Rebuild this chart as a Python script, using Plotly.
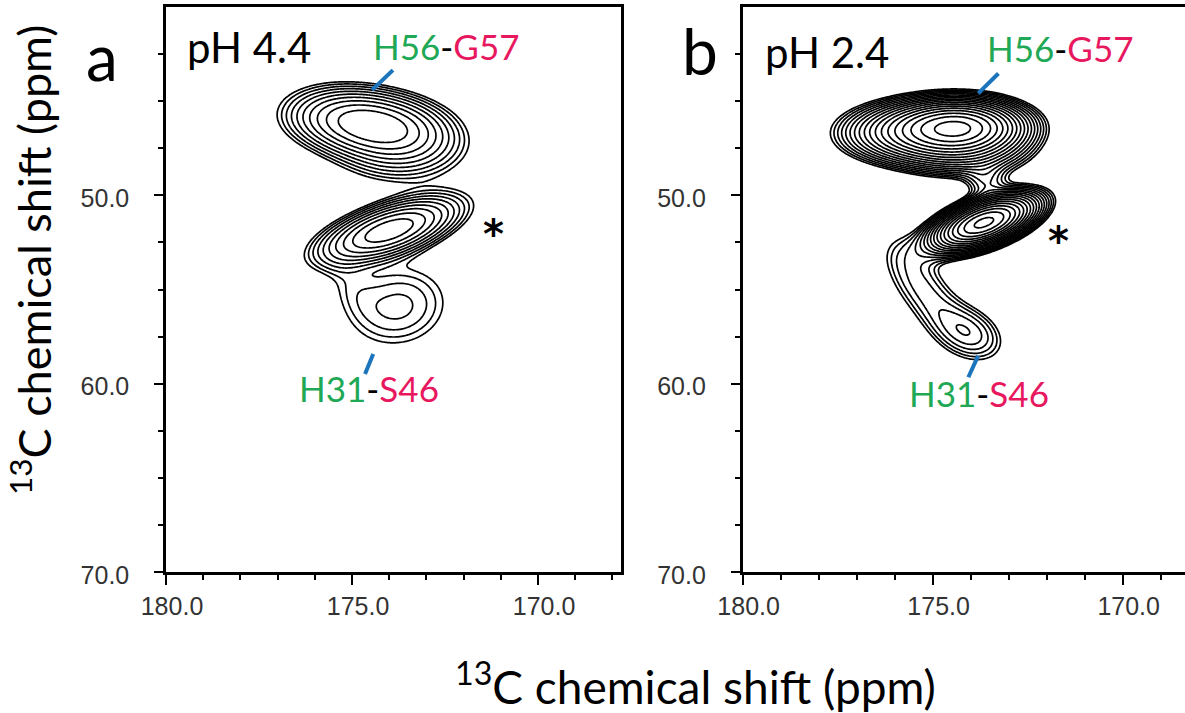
import numpy as np
import plotly.graph_objects as go

W, H = 1185, 713

# ---- peak table, panel a (pH 4.4): 13C' (x, ppm), 13Ca (y, ppm)
a_x   = [175.05, 174.00, 173.70, 174.00, 173.75, 175.05]
a_y   = [46.00, 46.45, 47.80, 51.86, 55.90, 54.80]
a_sx  = [0.95, 0.95, 1.00, 1.00, 0.90, 0.50]
a_sy  = [0.95, 0.95, 1.00, 0.95, 1.45, 1.20]
a_rho = [-0.15, -0.15, 0.00, 0.60, 0.10, -0.40]
a_amp = [8.0, 8.5, 2.5, 13.0, 2.4, 0.8]

# ---- peak table, panel b (pH 2.4)
b_x   = [174.30, 175.60, 174.20, 173.65, 173.60, 175.65, 174.90, 173.98]
b_y   = [46.35, 46.70, 47.70, 51.45, 49.30, 53.95, 55.90, 57.35]
b_sx  = [0.95, 1.05, 1.00, 0.75, 0.35, 0.60, 0.60, 0.62]
b_sy  = [0.80, 0.90, 0.80, 0.81, 0.60, 1.50, 1.50, 1.05]
b_rho = [0.00, 0.00, 0.00, 0.56, 0.00, -0.45, -0.45, -0.30]
b_amp = [20.0, 7.0, 4.0, 23.5, 1.5, 1.3, 1.15, 2.1]

# contour levels (geometric): lowest level, multiplier, count
a_levels = (1.0, 1.30, 10)
b_levels = (1.0, 1.20, 18)

# axis ticks
x_major = [180, 175, 170]
x_major_text = ["180.0", "175.0", "170.0"]
x_minor = [179, 178, 177, 176, 174, 173, 172, 171, 169, 168]
y_major = [50, 60, 70]
y_major_text = ["50.0", "60.0", "70.0"]
y_minor = [42.5, 45, 47.5, 52.5, 55, 57.5, 62.5, 65, 67.5]

gx = np.arange(168.0, 179.5, 0.04)
gy = np.arange(41.0, 61.0, 0.07)
GX, GY = np.meshgrid(gx, gy)


def spectrum(px, py, sx, sy, rho, amp):
    Z = np.zeros_like(GX)
    for x0, y0, a, b, r, A in zip(px, py, sx, sy, rho, amp):
        dx = (GX - x0) / a
        dy = (GY - y0) / b
        q = (dx * dx - 2 * r * dx * dy + dy * dy) / (1 - r * r)
        Z += A * np.exp(-0.5 * q)
    return np.round(np.log(np.maximum(Z, 1e-3)), 4)


def contour(Z, lev, xa, ya):
    base, mult, n = lev
    s = np.log(mult)
    return go.Contour(
        x=np.round(gx, 3), y=np.round(gy, 3), z=Z,
        contours=dict(start=np.log(base), end=np.log(base) + s * (n - 1) + 1e-6,
                      size=s, coloring="none"),
        line=dict(color="black", width=1.7),
        showscale=False, hoverinfo="skip", xaxis=xa, yaxis=ya,
    )


fig = go.Figure()
fig.add_trace(contour(spectrum(a_x, a_y, a_sx, a_sy, a_rho, a_amp), a_levels, "x", "y"))
fig.add_trace(contour(spectrum(b_x, b_y, b_sx, b_sy, b_rho, b_amp), b_levels, "x2", "y2"))

tickfont = dict(family="Liberation Sans, Arial, sans-serif", size=25, color="#333333")
ydom = [1 - 572 / H, 1 - 7 / H]


def xax(dom, rng):
    return dict(domain=dom, range=rng, showline=True, linewidth=2.5, linecolor="black",
                mirror=True, ticks="outside", ticklen=10, tickwidth=2, tickcolor="black",
                tickmode="array", tickvals=x_major, ticktext=x_major_text,
                minor=dict(tickmode="array", tickvals=x_minor, ticks="outside",
                           ticklen=5, tickwidth=2, tickcolor="black"),
                tickfont=tickfont, ticklabelshift=-6, ticklabelstandoff=0,
                automargin=False, showgrid=False, zeroline=False, fixedrange=True)


def yax(anchor, mirror):
    return dict(domain=ydom, range=[70, 40], anchor=anchor, showline=True, linewidth=2.5,
                linecolor="black", mirror=mirror, ticks="outside", ticklen=9, tickwidth=2,
                tickcolor="black", tickmode="array", tickvals=y_major, ticktext=y_major_text,
                minor=dict(tickmode="array", tickvals=y_minor, ticks="outside",
                           ticklen=5, tickwidth=2, tickcolor="black"),
                tickfont=tickfont, ticklabelstandoff=20, ticklabelshift=-3,
                automargin=False, showgrid=False, zeroline=False, fixedrange=True)


fig.update_layout(
    width=W, height=H, margin=dict(l=0, r=0, t=0, b=0, pad=0, autoexpand=False),
    paper_bgcolor="white", plot_bgcolor="white", showlegend=False,
    xaxis=xax([166 / W, 621 / W], [180, 167.77]),
    yaxis=yax("x", True),
    xaxis2=xax([742.6 / W, 1.0], [180, 168.36]),
    yaxis2=yax("x2", False),
)

GREEN, PINK, BLUE = "#1fa855", "#e8185f", "#1c75bc"
FONT = "Lato, Calibri, sans-serif"


def px(x, y):
    return x / W, 1 - y / H


def label(x, y, text, size, color="black", angle=0, family=FONT):
    xp, yp = px(x, y)
    fig.add_annotation(x=xp, y=yp, xref="paper", yref="paper", text=text, showarrow=False,
                       xanchor="center", yanchor="middle", textangle=angle,
                       font=dict(family=family, size=size, color=color))


def pair(a, b):
    return (f"<span style='color:{GREEN}'>{a}</span>-"
            f"<span style='color:{PINK}'>{b}</span>")


label(102, 56, "a", 64)
label(700, 50, "b", 64)
label(249, 47, "pH 4.4", 42)
label(827, 52, "pH 2.4", 42)
label(446, 46, pair("H56", "G57"), 35)
label(1060, 48, pair("H56", "G57"), 35)
label(369, 388, pair("H31", "S46"), 35)
label(979, 393, pair("H31", "S46"), 35)
label(493, 234, "<b>*</b>", 40, family="DejaVu Sans")
label(1058, 241, "<b>*</b>", 40, family="DejaVu Sans")
label(695, 683, "<sup>13</sup>C chemical shift (ppm)", 46)
label(31, 260, "<sup>13</sup>C chemical shift (ppm)", 45, angle=-90)

# blue assignment ticks (data coordinates)
ticks_a = [((173.90, 43.35), (174.46, 44.41)), ((174.43, 58.43), (174.65, 59.49))]
ticks_b = [((173.27, 43.53), (173.80, 44.59)), ((173.80, 58.51), (174.06, 59.66))]
for (p0, p1) in ticks_a:
    fig.add_shape(type="line", x0=p0[0], y0=p0[1], x1=p1[0], y1=p1[1], xref="x", yref="y",
                  line=dict(color=BLUE, width=4))
for (p0, p1) in ticks_b:
    fig.add_shape(type="line", x0=p0[0], y0=p0[1], x1=p1[0], y1=p1[1], xref="x2", yref="y2",
                  line=dict(color=BLUE, width=4))

fig.write_html("out.html")
